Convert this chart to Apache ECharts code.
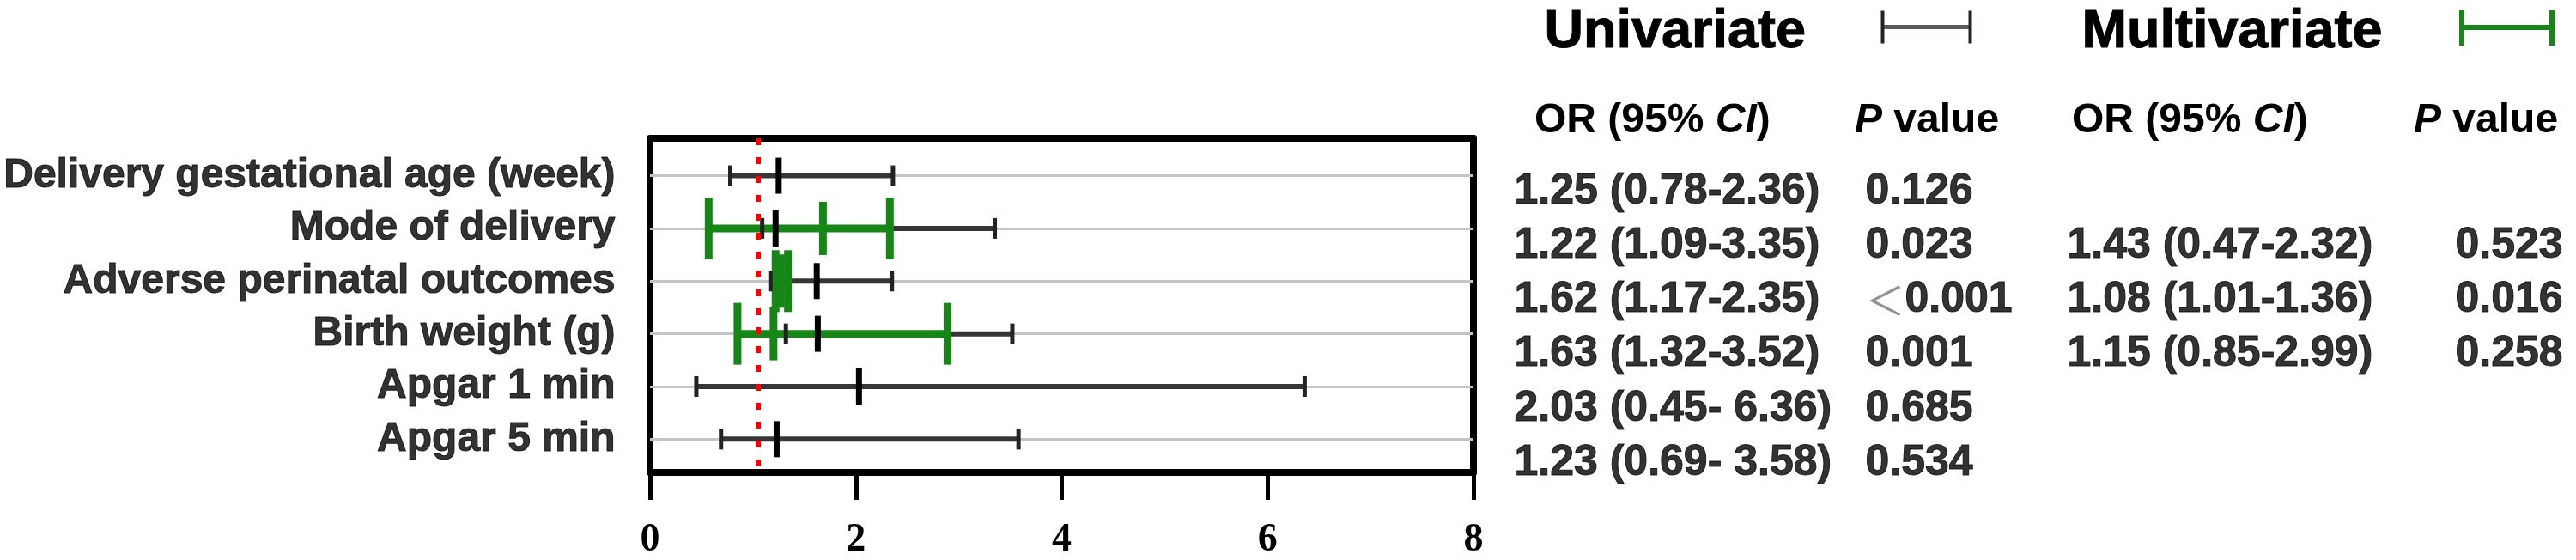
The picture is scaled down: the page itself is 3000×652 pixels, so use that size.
<!DOCTYPE html>
<html>
<head>
<meta charset="utf-8">
<script src="https://cdn.jsdelivr.net/npm/echarts@6/dist/echarts.min.js"></script>
<style>
  html, body { margin: 0; padding: 0; background: #fff; }
  #chart { width: 3000px; height: 652px; }
</style>
</head>
<body>
<div id="chart"></div>
<script>
// rows, top to bottom
const rowNames = [
  'Delivery gestational age (week)',
  'Mode of delivery',
  'Adverse perinatal outcomes',
  'Birth weight (g)',
  'Apgar 1 min',
  'Apgar 5 min'
];

// univariate OR and 95% CI
const uniOR = [1.25, 1.22, 1.62, 1.63, 2.03, 1.23];
const uniLow = [0.78, 1.09, 1.17, 1.32, 0.45, 0.69];
const uniHigh = [2.36, 3.35, 2.35, 3.52, 6.36, 3.58];
const uniText = ['1.25 (0.78-2.36)', '1.22 (1.09-3.35)', '1.62 (1.17-2.35)', '1.63 (1.32-3.52)', '2.03 (0.45- 6.36)', '1.23 (0.69- 3.58)'];
const uniP = ['0.126', '0.023', '＜0.001', '0.001', '0.685', '0.534'];

// multivariate, only rows 2-4 (marks as drawn in the figure)
const multiRows = [2, 3, 4];
const multiOR = [1.68, 1.27, 1.20];
const multiLow = [0.57, 1.22, 0.85];
const multiHigh = [2.33, 1.34, 2.89];
const multiText = ['1.43 (0.47-2.32)', '1.08 (1.01-1.36)', '1.15 (0.85-2.99)'];
const multiP = ['0.523', '0.016', '0.258'];

const xTicks = [0, 2, 4, 6, 8];
const refLine = 1.05;

const SANS = "'Liberation Sans', Arial, sans-serif";
const GREEN = '#168716';

// table column left edges (px inside table grid)
const tableCols = [43, 452, 687, 1139];

const myChart = echarts.init(document.getElementById('chart'));

// draws an error bar: whisker line, end caps, centre mark
function errorBar(o) {
  return function (params, api) {
    const row = api.value(0);
    const lo = api.coord([api.value(1), row]);
    const mid = api.coord([api.value(2), row]);
    const hi = api.coord([api.value(3), row]);
    const y = lo[1];
    const kids = [];
    if (o.line) {
      kids.push({ type: 'line', shape: { x1: lo[0], y1: y, x2: hi[0], y2: y },
        style: { stroke: o.lineColor || o.color, lineWidth: o.line } });
    }
    if (o.cap) {
      [lo[0], hi[0]].forEach(function (x) {
        kids.push({ type: 'line', shape: { x1: x, y1: y - o.capH / 2, x2: x, y2: y + o.capH / 2 },
          style: { stroke: o.color, lineWidth: o.cap } });
      });
    }
    if (o.mid) {
      kids.push({ type: 'line', shape: { x1: mid[0], y1: y - o.midH / 2, x2: mid[0], y2: y + o.midH / 2 },
        style: { stroke: o.midColor || o.color, lineWidth: o.mid } });
    }
    return { type: 'group', children: kids };
  };
}

const uniData = uniOR.map((v, i) => [i + 1, uniLow[i], v, uniHigh[i]]);
const multiData = multiOR.map((v, i) => [multiRows[i], multiLow[i], v, multiHigh[i]]);

function textCol(col, rows, texts) {
  return {
    type: 'scatter',
    xAxisIndex: 2,
    yAxisIndex: 2,
    symbolSize: 1,
    itemStyle: { color: 'rgba(0,0,0,0)' },
    silent: true,
    data: rows.map((r, i) => [tableCols[col], r, texts[i]]),
    label: {
      show: true,
      position: 'right',
      distance: 0,
      formatter: function (p) {
        const t = p.data[2];
        return t.charAt(0) === '＜' ? '{lt|＜}{v|' + t.slice(1) + '}' : '{v|' + t + '}';
      },
      rich: {
        v: { fontFamily: SANS, fontWeight: 'bold', fontSize: 50, color: '#000', textBorderColor: '#000', textBorderWidth: 1 },
        lt: { fontFamily: "'Noto Sans CJK SC', sans-serif", fontWeight: 'normal', fontSize: 46, color: '#777' }
      }
    }
  };
}

const uniRows = rowNames.map((n, i) => i + 1);

const headRich = {
  b: { font: 'bold 48px ' + SANS, fill: '#000', textStroke: '#000', textStrokeWidth: 1 },
  i: { font: 'italic bold 48px ' + SANS, fill: '#000', textStroke: '#000', textStrokeWidth: 1 }
};

const option = {
  animation: false,
  backgroundColor: '#fff',
  grid: [
    { left: 757, right: 1284, top: 161, bottom: 99 },
    { left: 1720, right: 0, top: 161, bottom: 99 }
  ],
  xAxis: [
    {
      gridIndex: 0, type: 'value', min: 0, max: 8, interval: 2,
      axisLine: { onZero: false, lineStyle: { color: '#000', width: 8 } },
      axisTick: { length: 32, lineStyle: { color: '#000', width: 5 } },
      axisLabel: { margin: 56, fontFamily: "'Liberation Serif', 'Times New Roman', serif", fontWeight: 'bold', fontSize: 46, color: '#000',
        formatter: v => xTicks.indexOf(v) >= 0 ? String(v) : '' },
      splitLine: { show: false }
    },
    {
      gridIndex: 0, type: 'value', min: 0, max: 8, position: 'top',
      axisLine: { onZero: false, lineStyle: { color: '#000', width: 8 } },
      axisTick: { show: false }, axisLabel: { show: false }, splitLine: { show: false }
    },
    { gridIndex: 1, type: 'value', min: 0, max: 1280, show: false }
  ],
  yAxis: [
    {
      gridIndex: 0, type: 'value', inverse: true, min: 0.29, max: 6.63,
      axisLine: { show: true, onZero: false, lineStyle: { color: '#000', width: 7 } },
      axisTick: { show: false }, axisLabel: { show: false }, splitLine: { show: false }
    },
    {
      gridIndex: 0, type: 'value', inverse: true, min: 0.29, max: 6.63, position: 'right',
      axisLine: { show: true, onZero: false, lineStyle: { color: '#000', width: 8 } },
      axisTick: { show: false }, axisLabel: { show: false }, splitLine: { show: false }
    },
    { gridIndex: 1, type: 'value', inverse: true, min: 0.02, max: 6.22, show: false }
  ],
  graphic: [
    // legend
    { type: 'text', left: 1798, top: 6, style: { text: 'Univariate', font: 'bold 63px ' + SANS, fill: '#000', stroke: '#000', lineWidth: 1 } },
    { type: 'group', left: 2190, top: 10, children: [
      { type: 'line', shape: { x1: 2, y1: 19, x2: 104, y2: 19 }, style: { stroke: '#5a5a5a', lineWidth: 5 } },
      { type: 'line', shape: { x1: 2, y1: 0, x2: 2, y2: 38 }, style: { stroke: '#222', lineWidth: 4 } },
      { type: 'line', shape: { x1: 104, y1: 0, x2: 104, y2: 38 }, style: { stroke: '#222', lineWidth: 4 } }
    ] },
    { type: 'text', left: 2424, top: 6, style: { text: 'Multivariate', font: 'bold 63px ' + SANS, fill: '#000', stroke: '#000', lineWidth: 1 } },
    { type: 'group', left: 2864, top: 9, children: [
      { type: 'line', shape: { x1: 3, y1: 20, x2: 108, y2: 20 }, style: { stroke: GREEN, lineWidth: 6 } },
      { type: 'line', shape: { x1: 3, y1: 0, x2: 3, y2: 41 }, style: { stroke: GREEN, lineWidth: 6 } },
      { type: 'line', shape: { x1: 108, y1: 0, x2: 108, y2: 41 }, style: { stroke: GREEN, lineWidth: 6 } }
    ] },
    // table headers
    { type: 'text', left: 1787, top: 117, style: { text: '{b|OR (95% }{i|CI}{b|)}', rich: headRich } },
    { type: 'text', left: 2160, top: 117, style: { text: '{i|P}{b| value}', rich: headRich } },
    { type: 'text', left: 2413, top: 117, style: { text: '{b|OR (95% }{i|CI}{b|)}', rich: headRich } },
    { type: 'text', left: 2811, top: 117, style: { text: '{i|P}{b| value}', rich: headRich } }
  ],
  series: [
    // row grid lines
    {
      type: 'line', xAxisIndex: 0, yAxisIndex: 0, data: [], z: 1, silent: true,
      markLine: {
        z: 1, silent: true, symbol: 'none', label: { show: false },
        lineStyle: { color: '#c4c4c4', width: 3, type: 'solid' },
        data: uniRows.map(r => ({ yAxis: r }))
      }
    },
    // univariate whiskers
    {
      name: 'Univariate', type: 'custom', xAxisIndex: 0, yAxisIndex: 0, z: 2,
      renderItem: errorBar({ color: '#363636', line: 6 }),
      encode: { x: [1, 2, 3], y: 0 }, data: uniData
    },
    // multivariate
    {
      name: 'Multivariate', type: 'custom', xAxisIndex: 0, yAxisIndex: 0, z: 3,
      renderItem: errorBar({ color: GREEN, line: 9, cap: 9, capH: 72, mid: 9, midH: 62 }),
      encode: { x: [1, 2, 3], y: 0 }, data: multiData
    },
    // univariate caps and OR marks
    {
      type: 'custom', xAxisIndex: 0, yAxisIndex: 0, z: 4,
      renderItem: errorBar({ color: '#222', cap: 5, capH: 24, mid: 7, midH: 42, midColor: '#000' }),
      encode: { x: [1, 2, 3], y: 0 }, data: uniData
    },
    // reference line
    {
      type: 'line', xAxisIndex: 0, yAxisIndex: 0, data: [], z: 10, silent: true,
      markLine: {
        z: 10, silent: true, symbol: 'none', label: { show: false },
        lineStyle: { color: '#ff0000', width: 6, type: [8, 14] },
        data: [{ xAxis: refLine }]
      }
    },
    // row labels
    {
      type: 'scatter', xAxisIndex: 0, yAxisIndex: 0, symbolSize: 1, silent: true,
      itemStyle: { color: 'rgba(0,0,0,0)' },
      data: uniRows.map(r => [0, r]),
      label: {
        show: true, position: 'left', distance: 40,
        formatter: p => rowNames[p.dataIndex],
        fontFamily: SANS, fontWeight: 'bold', fontSize: 48, color: '#000',
        textBorderColor: '#000', textBorderWidth: 1
      }
    },
    // table
    textCol(0, uniRows, uniText),
    textCol(1, uniRows, uniP),
    textCol(2, multiRows, multiText),
    textCol(3, multiRows, multiP)
  ]
};

myChart.setOption(option);
</script>
</body>
</html>
